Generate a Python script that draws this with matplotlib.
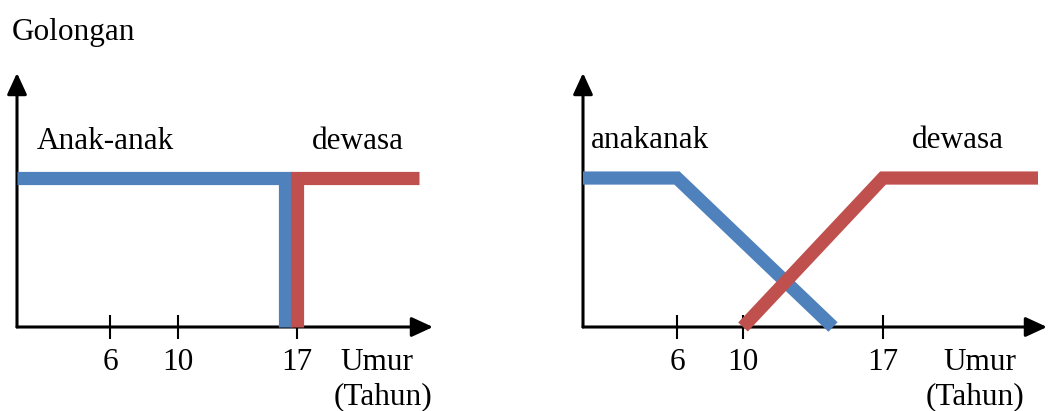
import numpy as np
import matplotlib.pyplot as plt

plt.rcParams['font.family'] = ['Liberation Serif', 'DejaVu Serif']

BLUE = '#4F81BD'
RED = '#C0504D'

# left panel: crisp sets
crisp_ticks = [6, 10, 17]
crisp_anak_x = [0.5, 16.3, 16.3]
crisp_anak_y = [1, 1, 0]
crisp_dewasa_x = [17, 17, 24.2]
crisp_dewasa_y = [0, 1, 1]

# right panel: fuzzy sets
fuzzy_ticks = [6, 10, 17]
fuzzy_anak_x = [0, 6, 14.5]
fuzzy_anak_y = [1, 1, 0]
fuzzy_dewasa_x = [10, 17, 24.75]
fuzzy_dewasa_y = [0, 1, 1]

W, H = 1048, 411
fig = plt.figure(figsize=(W / 100, H / 100), dpi=100)


def px_rect(x0, y_top, x1, y_bot):
    return [x0 / W, 1 - y_bot / H, (x1 - x0) / W, (y_bot - y_top) / H]


def ftext(x, y, s, **kw):
    fig.text(x / W, 1 - y / H, s, fontsize=22.5, va='baseline', **kw)


def style_axes(ax, ticks):
    for sp in ax.spines.values():
        sp.set_visible(False)
    ax.set_ylim(0, 1.705)
    ax.set_yticks([])
    ax.set_xticks(ticks)
    ax.set_xticklabels([str(t) for t in ticks])
    ax.tick_params(axis='x', direction='inout', length=17, width=1.5,
                   pad=6.5, labelsize=22.5)
    arrow = dict(arrowstyle='-|>,head_length=0.65,head_width=0.3',
                 lw=2.2, color='black', mutation_scale=20, shrinkA=0, shrinkB=0)
    ax.annotate('', xy=(1, 0), xytext=(0, 0), xycoords='axes fraction',
                arrowprops=arrow, annotation_clip=False)
    ax.annotate('', xy=(0, 1), xytext=(0, 0), xycoords='axes fraction',
                arrowprops=arrow, annotation_clip=False)


# left
ax1 = fig.add_axes(px_rect(17, 73, 433, 327))
ax1.set_xlim(0.5, 25.0)
style_axes(ax1, crisp_ticks)
ax1.plot(crisp_anak_x, crisp_anak_y, color=BLUE, lw=9.5,
         solid_capstyle='butt', solid_joinstyle='miter', zorder=5, clip_on=False)
ax1.plot(crisp_dewasa_x, crisp_dewasa_y, color=RED, lw=9.5,
         solid_capstyle='butt', solid_joinstyle='miter', zorder=6, clip_on=False)

# right, hand-drawn axis is not evenly spaced
knots_x = [0, 6, 10, 17, 30]
knots_u = [0, 94, 160, 300, 560]


def fwd(x):
    return np.interp(x, knots_x, knots_u)


def inv(u):
    return np.interp(u, knots_u, knots_x)


ax2 = fig.add_axes(px_rect(583, 73, 1047, 327))
ax2.set_xscale('function', functions=(fwd, inv))
ax2.set_xlim(0, 25.2)
style_axes(ax2, fuzzy_ticks)
ax2.plot(fuzzy_anak_x, fuzzy_anak_y, color=BLUE, lw=9.5,
         solid_capstyle='butt', solid_joinstyle='miter', zorder=5, clip_on=False)
ax2.plot(fuzzy_dewasa_x, fuzzy_dewasa_y, color=RED, lw=9.5,
         solid_capstyle='butt', solid_joinstyle='miter', zorder=6, clip_on=False)

ftext(12, 40, 'Golongan')
ftext(37, 149, 'Anak-anak')
ftext(312, 149, 'dewasa')
ftext(377, 370, 'Umur', ha='center')
ftext(383, 404, '(Tahun)', ha='center')

ftext(591, 148, 'anakanak')
ftext(912, 148, 'dewasa')
ftext(980, 370, 'Umur', ha='center')
ftext(975, 404, '(Tahun)', ha='center')

fig.savefig('out.png', dpi=100)
